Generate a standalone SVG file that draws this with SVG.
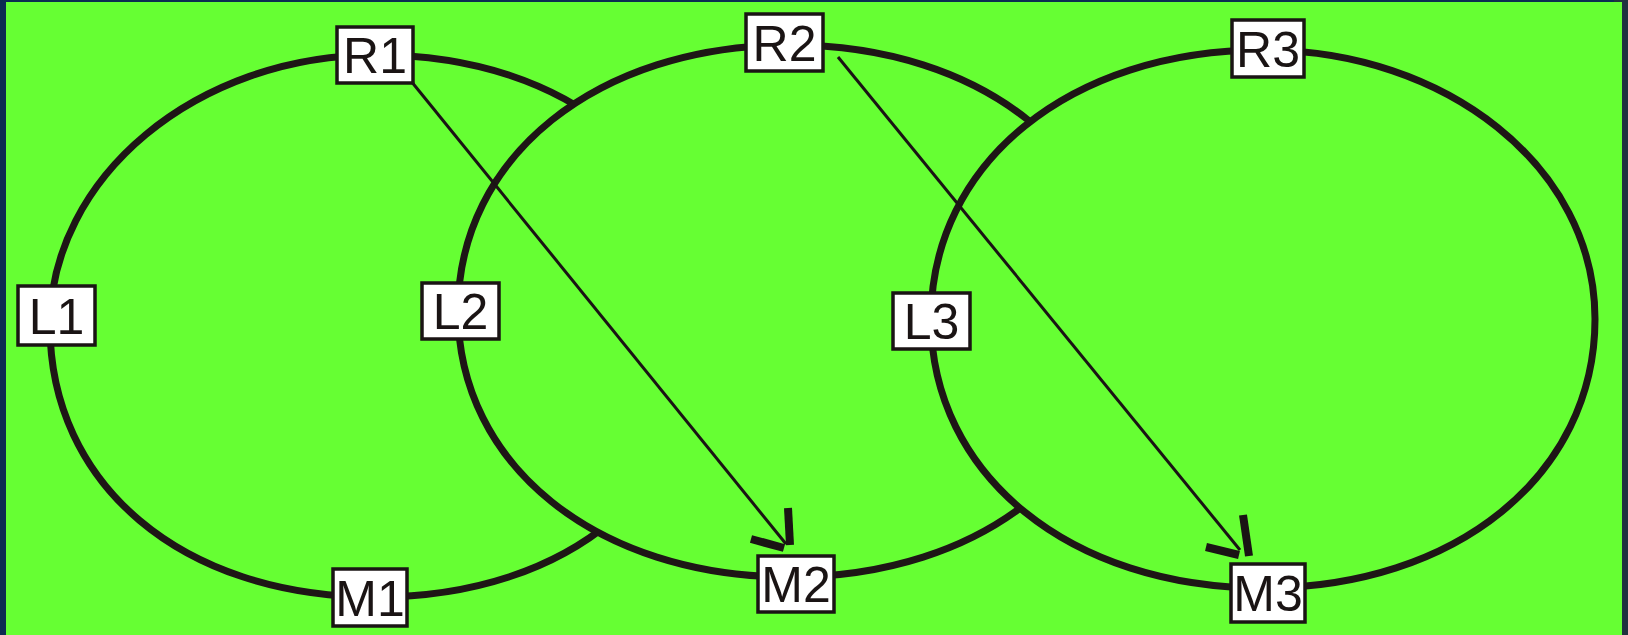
<svg xmlns="http://www.w3.org/2000/svg" width="1628" height="635" viewBox="0 0 1628 635">
<style>
.ring{fill:#66ff33;stroke:#1e1616;stroke-width:7;stroke-linejoin:round}
.lnk{stroke:#1a1414;stroke-width:3;fill:none;stroke-linecap:butt}
.head{stroke:#1a1414;stroke-width:8;fill:none;stroke-linecap:butt}
.box{fill:#ffffff;stroke:#1a1414;stroke-width:3.5}
.lbl{font-family:"Liberation Sans",Arial,sans-serif;font-size:50px;fill:#1a1414;text-anchor:middle}
</style>
<rect x="0" y="0" width="1628" height="635" fill="#0c2c52"/>
<rect x="1614" y="0" width="14" height="635" fill="#20323f"/>
<rect x="6" y="2" width="1616" height="633" fill="#66ff33"/>
<g id="rings">
<path id="ring1" class="ring" d="M50,326 C50,177 196.7,55 376,55 C571.6,55 702,168.8 702,326 C702,483.2 571.6,597 376,597 C180.4,597 50,483.2 50,326Z"/>
<path id="ring2" class="ring" d="M458,311 C458,156.7 597.4,45 790,45 C982.6,45 1122,156.7 1122,311 C1122,465.3 982.6,577 790,577 C597.4,577 458,465.3 458,311Z"/>
<path id="ring3" class="ring" d="M931,319 C931,163 1070.4,50 1263,50 C1446,50 1595,167 1595,319 C1595,475 1455.6,588 1263,588 C1070.4,588 931,475 931,319Z"/>
</g>
<g id="connectors">
<line class="lnk" x1="411" y1="81" x2="786" y2="544"/>
<line class="head" x1="788" y1="508" x2="790" y2="545"/>
<line class="head" x1="751" y1="539" x2="784" y2="548"/>
<line class="lnk" x1="838" y1="57" x2="1240" y2="550"/>
<line class="head" x1="1243" y1="515" x2="1249" y2="556"/>
<line class="head" x1="1206" y1="547" x2="1239" y2="555"/>
</g>
<g id="R1"><rect class="box" x="337" y="27" width="76" height="56"/><text class="lbl" x="375" y="73">R1</text></g>
<g id="R2"><rect class="box" x="746" y="14" width="77" height="57"/><text class="lbl" x="784.5" y="60.5">R2</text></g>
<g id="R3"><rect class="box" x="1232" y="20" width="72" height="57"/><text class="lbl" x="1268" y="66.5">R3</text></g>
<g id="L1"><rect class="box" x="18" y="286" width="77" height="59"/><text class="lbl" x="56.5" y="333.5">L1</text></g>
<g id="L2"><rect class="box" x="422" y="283" width="77" height="56"/><text class="lbl" x="460.5" y="329">L2</text></g>
<g id="L3"><rect class="box" x="893" y="293" width="77" height="56"/><text class="lbl" x="931.5" y="339">L3</text></g>
<g id="M1"><rect class="box" x="333" y="569" width="74" height="57"/><text class="lbl" x="370" y="615.5">M1</text></g>
<g id="M2"><rect class="box" x="758" y="556" width="76" height="56"/><text class="lbl" x="796" y="602">M2</text></g>
<g id="M3"><rect class="box" x="1231" y="564" width="74" height="58"/><text class="lbl" x="1268" y="611">M3</text></g>
</svg>
